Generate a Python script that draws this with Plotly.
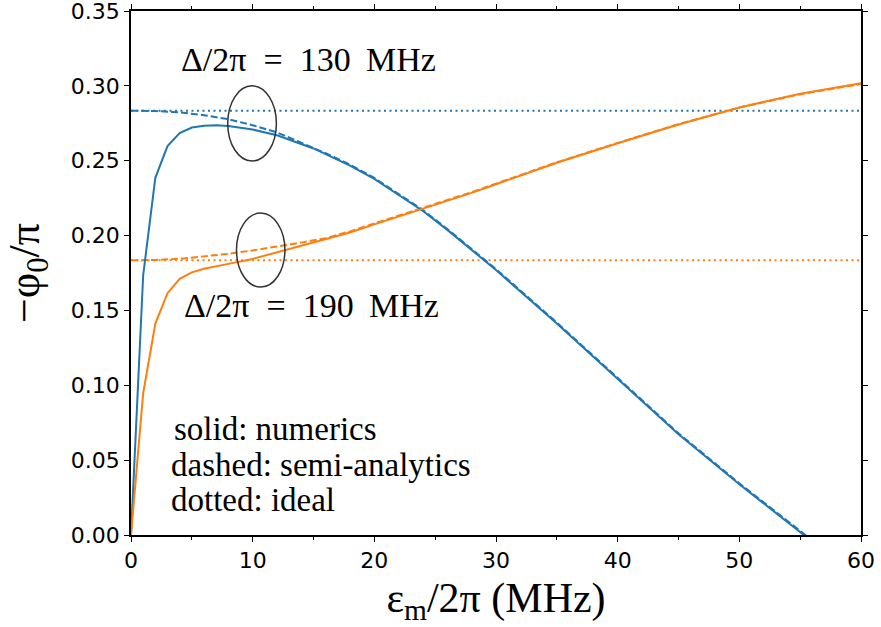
import plotly.graph_objects as go

# ---- data ----
x_num = [0, 1, 2, 3, 4, 5, 6, 7, 8, 10, 12, 15, 18, 20, 22, 24, 26, 28, 30, 35, 40, 45, 50, 55, 60]
blue_numerics = [0.0, 0.1735, 0.2386, 0.2598, 0.2684, 0.2722, 0.2734, 0.2737, 0.2732, 0.2708, 0.2670,
                 0.2582, 0.2467, 0.2379, 0.2271, 0.2164, 0.2038, 0.1906, 0.1770, 0.1413, 0.1043,
                 0.0673, 0.0339, 0.0017, -0.0300]
orange_numerics = [0.0, 0.0947, 0.1412, 0.1615, 0.1711, 0.1754, 0.1778, 0.1797, 0.1811, 0.1844, 0.1888,
                   0.1950, 0.2021, 0.2075, 0.2128, 0.2178, 0.2234, 0.2285, 0.2343, 0.2486, 0.2617,
                   0.2742, 0.2856, 0.2947, 0.3018]

x_semi = [0, 2, 4, 6, 8, 10, 12, 14, 16, 18, 20, 22, 24, 26, 28, 30, 35, 40, 45, 50, 55, 60]
blue_semi = [0.2834, 0.2832, 0.2823, 0.2804, 0.2777, 0.2737, 0.2689, 0.2620, 0.2550, 0.2473, 0.2385,
             0.2277, 0.2170, 0.2044, 0.1912, 0.1776, 0.1419, 0.1049, 0.0679, 0.0345, 0.0023, -0.0290]
orange_semi = [0.1835, 0.1837, 0.1845, 0.1859, 0.1878, 0.1901, 0.1926, 0.1953, 0.1983, 0.2028, 0.2081,
               0.2133, 0.2183, 0.2239, 0.2290, 0.2347, 0.2489, 0.2619, 0.2744, 0.2855, 0.2944, 0.3012]

x_ideal = [0, 60]
blue_ideal = [0.2834, 0.2834]
orange_ideal = [0.1835, 0.1835]

x_ticks = [0, 10, 20, 30, 40, 50, 60]
y_ticks = [0.00, 0.05, 0.10, 0.15, 0.20, 0.25, 0.30, 0.35]

# ellipse annotations [x0, x1, y0, y1] and labels
ellipse_130 = [7.95, 11.95, 0.2498, 0.3000]
ellipse_190 = [8.67, 12.65, 0.1656, 0.2150]
NB = "\u00a0"
label_130 = (3.95, 0.3175, f"Δ/2π{NB}{NB}={NB}{NB}130{NB}\u2009MHz")
label_190 = (4.2, 0.1535, f"Δ/2π{NB}{NB}={NB}{NB}190{NB}\u2009MHz")
legend_lines = [(3.4, 0.0705, "solid: numerics"), (3.15, 0.0470, "dashed: semi-analytics"),
                (3.15, 0.0235, "dotted: ideal")]

BLUE = "#1f77b4"
ORANGE = "#ff7f0e"
SERIF = "Liberation Serif, DejaVu Serif, serif"
SANS = "DejaVu Sans, sans-serif"

fig = go.Figure()
for xs, ys, col, dash in [
    (x_ideal, blue_ideal, BLUE, "2px,3.5px"),
    (x_ideal, orange_ideal, ORANGE, "2px,3.5px"),
    (x_semi, blue_semi, BLUE, "7px,3px"),
    (x_semi, orange_semi, ORANGE, "7px,3px"),
    (x_num, blue_numerics, BLUE, "solid"),
    (x_num, orange_numerics, ORANGE, "solid"),
]:
    fig.add_trace(go.Scatter(x=xs, y=ys, mode="lines", line=dict(color=col, width=2, dash=dash),
                             showlegend=False, hoverinfo="skip"))

for e in (ellipse_130, ellipse_190):
    fig.add_shape(type="circle", xref="x", yref="y", x0=e[0], x1=e[1], y0=e[2], y1=e[3],
                  line=dict(color="#333333", width=1.5))

for (xx, yy, t) in (label_130, label_190):
    fig.add_annotation(x=xx, y=yy, text=t, xref="x", yref="y", showarrow=False, xanchor="left",
                       yanchor="middle", font=dict(family=SERIF, size=34, color="black"))
for (xx, yy, t) in legend_lines:
    fig.add_annotation(x=xx, y=yy, text=t, xref="x", yref="y", showarrow=False, xanchor="left",
                       yanchor="middle", font=dict(family=SERIF, size=33, color="black"))

axis_common = dict(showline=True, linecolor="black", linewidth=1.5, mirror="allticks",
                   ticks="outside", ticklen=5, tickwidth=1.3, tickcolor="black", automargin=False,
                   ticklabeloverflow="allow",
                   showgrid=False, zeroline=False, tickfont=dict(family=SANS, size=22, color="black"))

fig.update_xaxes(range=[0, 60], tickvals=x_ticks, ticktext=[str(v) for v in x_ticks],
                 minor=dict(ticks="outside", ticklen=3.5, tickwidth=1, tickcolor="black", dtick=5),
                 title=dict(text="ε<sub>m</sub>/2π (MHz)", font=dict(family=SERIF, size=42, color="black"),
                            standoff=10),
                 **axis_common)
fig.update_yaxes(range=[0, 0.35], tickvals=y_ticks, ticktext=[f"{v:.2f}" for v in y_ticks],
                 title=dict(text="−φ<sub>0</sub>/π", font=dict(family=SERIF, size=44, color="black"),
                            standoff=18),
                 **axis_common)

fig.update_layout(width=881, height=627, plot_bgcolor="white", paper_bgcolor="white",
                  margin=dict(l=131, r=20, t=11, b=92), showlegend=False)

fig.write_html("out.html", config={"displayModeBar": False},
               post_script="document.body.style.margin='0';")
